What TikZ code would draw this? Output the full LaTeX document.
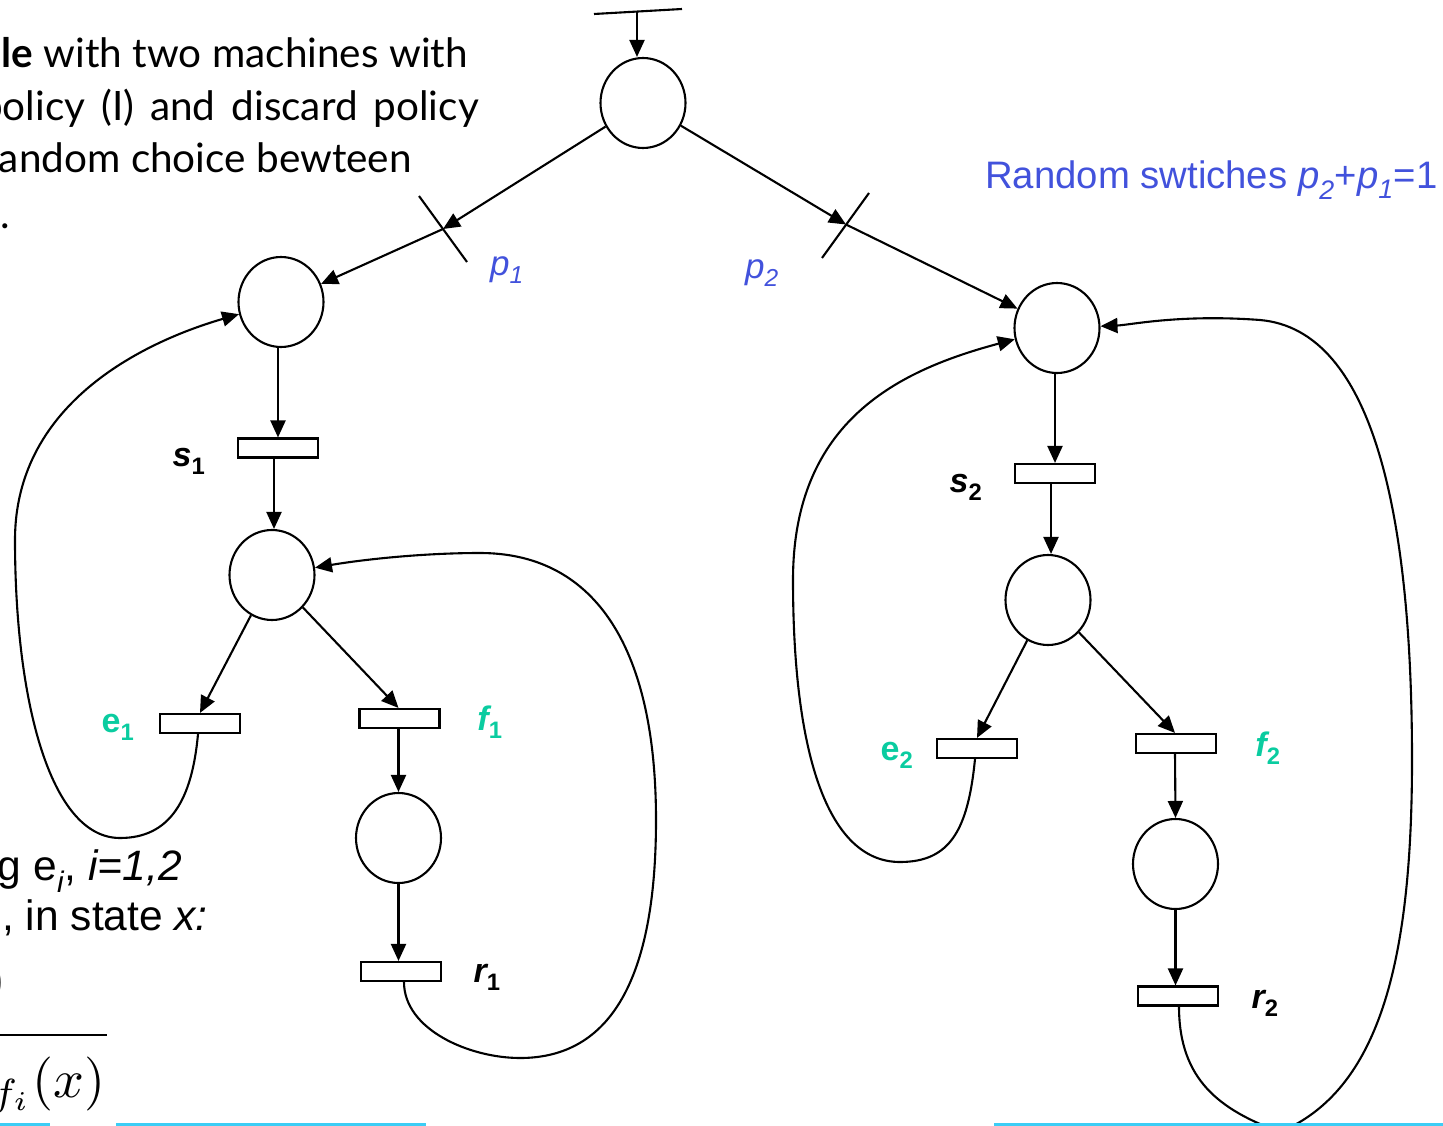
\documentclass[tikz,border=0pt]{standalone}
\usepackage{fontspec}
\setmainfont{Lato}
\newfontfamily\arial{Liberation Sans}
\usetikzlibrary{arrows.meta,shapes.geometric}
\definecolor{pblue}{RGB}{66,82,220}
\definecolor{tealg}{RGB}{10,204,160}
\definecolor{cyanl}{RGB}{60,205,245}
\begin{document}
\begin{tikzpicture}[x=1pt,y=-1pt,
  place/.style={draw,ellipse,minimum width=85pt,minimum height=90pt,inner sep=0pt,line width=2.1pt},
  trans/.style={draw,rectangle,minimum width=80pt,minimum height=19pt,inner sep=0pt,line width=2.1pt},
  arc/.style={line width=2.1pt,-{Triangle[length=17pt,width=15pt]}},
  barline/.style={line width=2.1pt},
  lab/.style={font=\arial\fontsize{34}{38}\selectfont\bfseries\itshape,inner sep=0pt},
  labg/.style={lab,text=tealg},
  plab/.style={font=\arial\fontsize{35}{40}\selectfont\itshape,text=pblue,inner sep=0pt},
  gill/.style={font=\fontsize{40.5}{46}\selectfont,inner sep=0pt},
  ar/.style={font=\arial\fontsize{42.5}{48}\selectfont,inner sep=0pt},
  cyanrule/.style={cyanl,line width=3pt}
]
\useasboundingbox (0,0) rectangle (1443,1126);
\clip (0,0) rectangle (1443,1126);

% places
\node[place] (P0) at (643,103) {};
\node[place] (P1) at (281,302) {};
\node[place] (P1b) at (272,575) {};
\node[place] (P1c) at (398.5,838) {};
\node[place] (P2) at (1057,328) {};
\node[place] (P2b) at (1048,600) {};
\node[place] (P2c) at (1175.5,864) {};
% transitions
\node[trans] (s1) at (278,448) {};
\node[trans] (e1) at (200,723.5) {};
\node[trans] (f1) at (399.5,718.5) {};
\node[trans] (r1) at (401,971.5) {};
\node[trans] (s2) at (1055,473.5) {};
\node[trans] (e2) at (977,748.5) {};
\node[trans] (f2) at (1176,743.5) {};
\node[trans] (r2) at (1178,996) {};

% source
\coordinate (srcL) at (594,14);
\coordinate (srcR) at (682,9);
\coordinate (src) at (637,11.6);
\draw[barline] (srcL) -- (srcR);
\draw[arc] (src) -- (src |- P0.north);

% random switches
\coordinate (sw1) at (443,229);
\coordinate (sw1a) at (419,196);
\coordinate (sw1b) at (467,262);
\draw[barline] (sw1a) -- (sw1b);
\coordinate (sw2) at (846,224.5);
\coordinate (sw2a) at (822,258);
\coordinate (sw2b) at (869,193);
\draw[barline] (sw2a) -- (sw2b);
\draw[arc] (P0) -- (sw1);
\draw[arc] (sw1) -- (P1);
\draw[arc] (P0) -- (sw2);
\draw[arc] (sw2) -- (P2);

% machine 1
\draw[arc] (s1.north |- P1.south) -- (s1.north);
\draw[arc] ([xshift=-4pt]s1.south) -- ([xshift=-4pt]s1.south |- P1b.north);
\draw[arc] (P1b) -- (e1.north);
\draw[arc] (P1b) -- ([xshift=-1pt]f1.north);
\draw[arc] ([xshift=-1pt]f1.south) -- (P1c.north);
\draw[arc] (P1c.south) -- (P1c.south |- r1.north);
\draw[arc] ([xshift=-2pt]e1.south) .. controls (192,800) and (170,838) .. (120,838)
  .. controls (50,838) and (15,700) .. (15,540)
  .. controls (15,400) and (150,340) .. (P1);
\draw[arc] ([xshift=3pt]r1.south) .. controls (404,1030) and (470,1058) .. (520,1058)
  .. controls (610,1058) and (656,980) .. (656,820)
  .. controls (656,640) and (590,553) .. (480,553)
  .. controls (420,553) and (360,560) .. (P1b);

% machine 2
\draw[arc] (s2.north |- P2.south) -- (s2.north);
\draw[arc] ([xshift=-4pt]s2.south) -- ([xshift=-4pt]s2.south |- P2b.north);
\draw[arc] (P2b) -- (e2.north);
\draw[arc] (P2b) -- ([xshift=-1pt]f2.north);
\draw[arc] ([xshift=-1pt]f2.south) -- (P2c.north);
\draw[arc] (P2c.south) -- (P2c.south |- r2.north);
\draw[arc] ([xshift=-2pt]e2.south) .. controls (968,830) and (950,862) .. (900,862)
  .. controls (830,862) and (793,760) .. (793,580)
  .. controls (793,420) and (900,370) .. (P2);
\draw[arc] ([xshift=1pt]r2.south) .. controls (1179,1080) and (1220,1110) .. (1280,1132)
  .. controls (1380,1090) and (1412,960) .. (1412,760)
  .. controls (1412,520) and (1375,330) .. (1260,320)
  .. controls (1180,314) and (1130,325) .. (P2);

% labels
\node[lab] (ls1) at (189,461) {s\textsubscript{\upshape 1}};
\node[lab] (ls2) at (966,487) {s\textsubscript{\upshape 2}};
\node[labg] (le1) at (118,727) {\upshape e\textsubscript{1}};
\node[labg] (lf1) at (490,722) {f\textsubscript{\upshape 1}};
\node[labg] (le2) at (897,755) {\upshape e\textsubscript{2}};
\node[labg] (lf2) at (1268,748) {f\textsubscript{\upshape 2}};
\node[lab] (lr1) at (487,977) {r\textsubscript{\upshape 1}};
\node[lab] (lr2) at (1265,1003) {r\textsubscript{\upshape 2}};
\node[plab] (lp1) at (507,270) {p\textsubscript{1}};
\node[plab] (lp2) at (762,273) {p\textsubscript{2}};
\node[font=\arial\fontsize{38.3}{43}\selectfont,text=pblue,inner sep=0pt,anchor=base west] (rs) at (985,189)
  {Random swtiches \textit{p}\textsubscript{\textit{2}}+\textit{p}\textsubscript{\textit{1}}=1};

% top-left text
\node[gill,anchor=base east] (t1) at (468,68) {\textbf{le} with two machines with};
\node[gill,anchor=base east] (t2) at (479,121) {\spaceskip=16pt policy (I) and discard policy};
\node[gill,anchor=base east] (t3) at (412,173) {random choice bewteen};
\node[gill,anchor=base west] (t4) at (0,229) {.};

% bottom-left text
\node[ar,anchor=base east] (b1) at (182,880) {g e\textsubscript{\textit{i}}, \textit{i=1,2}};
\node[ar,anchor=base east] (b2) at (208,930) {, in state \textit{x:}};
\node[inner sep=0pt,anchor=base east] (num) at (7,996) {\scalebox{5.4}{$)$}};
\coordinate (fracL) at (0,1035);
\coordinate (fracR) at (107,1035);
\draw[line width=1.5pt] (fracL) -- (fracR);
\node[inner sep=0pt,anchor=base east] (den) at (106,1097) {\scalebox{5.4}{${}_{f_i}(x)$}};

% cyan rules
\draw[cyanrule] (0,1124.5) -- (50,1124.5);
\draw[cyanrule] (116,1124.5) -- (426,1124.5);
\draw[cyanrule] (994,1124.5) -- (1443,1124.5);
\end{tikzpicture}
\end{document}
